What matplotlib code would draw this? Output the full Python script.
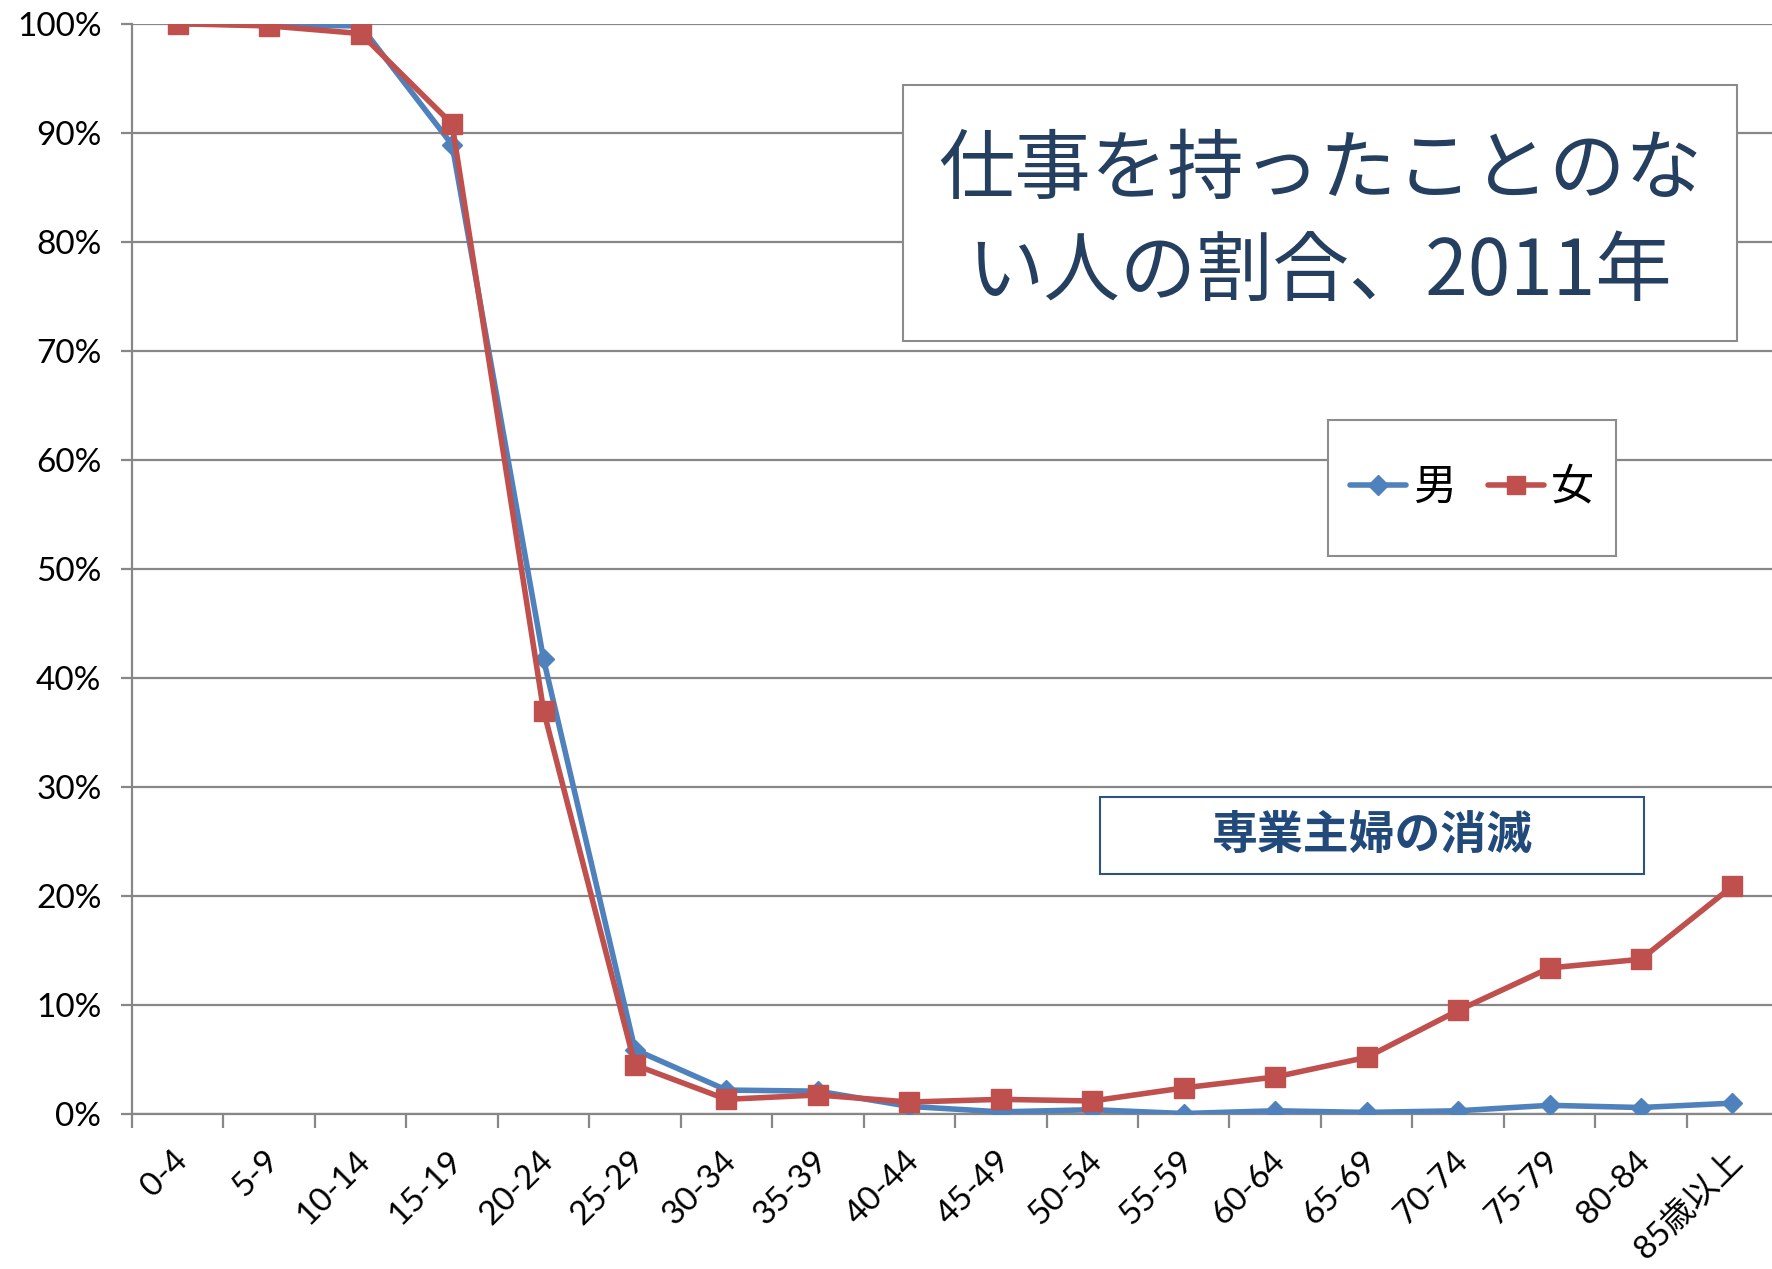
import matplotlib

matplotlib.use("Agg")
import matplotlib.pyplot as plt
from matplotlib.lines import Line2D
from matplotlib.patches import Rectangle
from matplotlib.ticker import FixedLocator, PercentFormatter
from matplotlib.transforms import ScaledTranslation

plt.rcParams["font.family"] = ["Lato", "Noto Sans CJK JP", "DejaVu Sans"]

# age groups and share of people who never had a job (%)
age_groups = ["0-4", "5-9", "10-14", "15-19", "20-24", "25-29", "30-34",
              "35-39", "40-44", "45-49", "50-54", "55-59", "60-64", "65-69",
              "70-74", "75-79", "80-84", "85歳以上"]
male = [100.0, 99.9, 99.8, 88.9, 41.7, 5.9, 2.2, 2.1, 0.7, 0.2, 0.4, 0.05,
        0.3, 0.15, 0.3, 0.8, 0.6, 1.0]
female = [100.0, 99.8, 99.1, 90.8, 37.0, 4.5, 1.35, 1.75, 1.1, 1.35, 1.2,
          2.4, 3.4, 5.2, 9.5, 13.4, 14.2, 20.9]
series_names = ["男", "女"]

title_text = "仕事を持ったことのな\nい人の割合、2011年"
note_text = "専業主婦の消滅"

BLUE = "#4F81BD"
RED = "#C0504D"
GRID = "#878787"
NAVY = "#243F60"

fig = plt.figure(figsize=(17.72, 12.69), dpi=100)
ax = fig.add_axes([0.0745, 0.1221, 0.929, 0.8592])

x = range(len(age_groups))
ax.plot(x, male, color=BLUE, lw=4, marker="D", ms=10, zorder=3,
        label=series_names[0])
ax.plot(x, female, color=RED, lw=4, marker="s", ms=14, zorder=4,
        label=series_names[1])

ax.set_xlim(-0.5, len(age_groups) - 0.5)
ax.set_ylim(0, 100)
ax.yaxis.set_major_locator(FixedLocator(range(0, 101, 10)))
ax.yaxis.set_major_formatter(PercentFormatter(decimals=0))
ax.grid(axis="y", color=GRID, lw=1.6)
ax.set_axisbelow(True)

ax.set_xticks(list(x))
ax.set_xticklabels(age_groups)
ax.set_xticks([i - 0.5 for i in range(len(age_groups) + 1)], minor=True)
ax.tick_params(axis="x", which="major", length=0, pad=30, labelsize=24)
ax.tick_params(axis="x", which="minor", length=10, width=1.6, color=GRID)
ax.tick_params(axis="y", length=8, width=1.6, color=GRID, pad=14,
               labelsize=24)
shift = ScaledTranslation(5 / 100, 0, fig.dpi_scale_trans)
for lbl in ax.get_xticklabels():
    lbl.set_rotation(45)
    lbl.set_rotation_mode("anchor")
    lbl.set_ha("right")
    lbl.set_va("center")
    lbl.set_transform(lbl.get_transform() + shift)

for side in ("top", "right"):
    ax.spines[side].set_visible(False)
for side in ("left", "bottom"):
    ax.spines[side].set_color(GRID)
    ax.spines[side].set_linewidth(1.6)

# title box
fig.add_artist(Rectangle((0.5096, 0.7313), 0.4707, 0.2017,
                         transform=fig.transFigure, facecolor="white",
                         edgecolor="#8C8C8C", lw=1.5, zorder=5))
fig.text(0.745, 0.825, title_text, ha="center", va="center", fontsize=55,
         color=NAVY, family=["Noto Sans CJK JP", "DejaVu Sans"],
         linespacing=1.36, zorder=6)

# legend box
fig.add_artist(Rectangle((0.7494, 0.5619), 0.1625, 0.1072,
                         transform=fig.transFigure, facecolor="white",
                         edgecolor="#8C8C8C", lw=1.5, zorder=5))
handles = [
    Line2D([], [], color=BLUE, lw=4, marker="D", ms=10, solid_capstyle="round"),
    Line2D([], [], color=RED, lw=4, marker="s", ms=13, solid_capstyle="round"),
]
leg = fig.legend(handles, series_names, loc="center",
                 bbox_to_anchor=(0.8307, 0.6155), ncol=2, frameon=False,
                 handlelength=1.3, handletextpad=0.15, columnspacing=0.75,
                 prop={"family": ["Noto Sans CJK JP"], "size": 31})
leg.set_zorder(6)

# note box
fig.add_artist(Rectangle((0.6208, 0.3113), 0.307, 0.0607,
                         transform=fig.transFigure, facecolor="white",
                         edgecolor="#2C5282", lw=1.5, zorder=5))
fig.text(0.7743, 0.3416, note_text, ha="center", va="center", fontsize=33,
         fontweight="bold", color="#21497A",
         family=["Noto Sans CJK JP", "DejaVu Sans"], zorder=6)

fig.savefig("out.png", dpi=100)
plt.close(fig)
